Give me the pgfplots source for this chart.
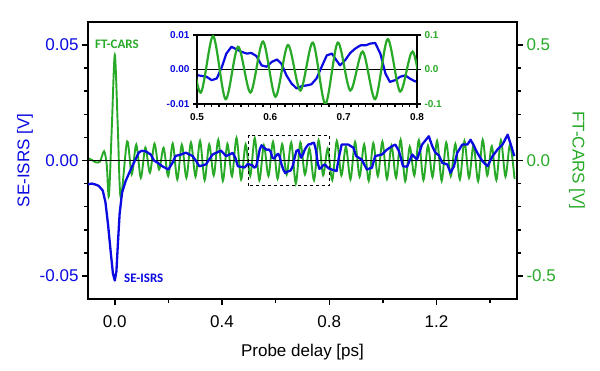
\documentclass[border=0pt]{standalone}
\usepackage{pgfplots}
\pgfplotsset{compat=1.18}
\usepackage{pgfplotstable}
\usepackage{fontspec}
\setmainfont{Liberation Sans}
\newfontfamily\calibri{Carlito}
\definecolor{sblue}{RGB}{10,10,225}
\definecolor{cgreen}{RGB}{40,170,40}

\pgfplotstableread{
x g
-0.100 0.010
-0.085 0.002
-0.070 -0.008
-0.055 -0.004
-0.040 0.040
-0.030 -0.020
-0.022 -0.155
-0.011 0.150
0.000 0.457
0.011 0.150
0.022 -0.160
0.046 0.083
0.063 -0.060
0.080 0.069
0.097 -0.075
0.114 0.056
0.131 -0.053
0.148 0.073
0.165 -0.039
0.182 0.055
0.199 -0.068
0.216 0.073
0.233 -0.082
0.250 0.069
0.267 -0.075
0.284 0.078
0.301 -0.070
0.318 0.085
0.335 -0.085
0.352 0.070
0.369 -0.065
0.386 0.090
0.403 -0.088
0.420 0.072
0.437 -0.068
0.454 0.098
0.471 -0.082
0.488 0.070
0.505 -0.067
0.522 0.097
0.539 -0.086
0.556 0.066
0.573 -0.067
0.590 0.081
0.607 -0.079
0.624 0.071
0.641 -0.061
0.658 0.078
0.675 -0.100
0.692 0.078
0.709 -0.061
0.726 0.052
0.743 -0.086
0.760 0.088
0.777 -0.064
0.794 0.052
0.811 -0.085
0.828 0.085
0.845 -0.065
0.862 0.060
0.879 -0.082
0.896 0.080
0.913 -0.070
0.930 0.070
0.947 -0.088
0.964 0.075
0.981 -0.068
0.998 0.082
1.015 -0.080
1.032 0.065
1.049 -0.075
1.066 0.090
1.083 -0.090
1.100 0.060
1.117 -0.065
1.134 0.088
1.151 -0.085
1.168 0.065
1.185 -0.072
1.202 0.085
1.219 -0.088
1.236 0.078
1.253 -0.068
1.270 0.072
1.287 -0.082
1.304 0.085
1.321 -0.075
1.338 0.068
1.355 -0.090
1.372 0.090
1.389 -0.065
1.406 0.062
1.423 -0.085
1.440 0.088
1.457 -0.070
1.474 0.070
1.491 -0.080
}\greendata

\pgfplotstableread{
x s
-0.100 -0.0103
-0.085 -0.0100
-0.070 -0.0105
-0.060 -0.0110
-0.045 -0.0130
-0.035 -0.0180
-0.025 -0.0280
-0.015 -0.0400
-0.007 -0.0490
0.000 -0.0520
0.006 -0.0480
0.012 -0.0350
0.018 -0.0230
0.027 -0.0140
0.040 -0.0090
0.059 -0.0040
0.075 0.0000
0.090 0.0035
0.100 0.0042
0.115 0.0040
0.134 0.0026
0.146 0.0000
0.160 -0.0010
0.177 -0.0025
0.200 -0.0039
0.215 -0.0010
0.227 0.0020
0.245 0.0025
0.265 0.0034
0.290 0.0019
0.305 -0.0005
0.315 -0.0025
0.340 -0.0017
0.355 0.0010
0.365 0.0026
0.396 0.0043
0.415 0.0019
0.440 0.0033
0.450 0.0010
0.459 -0.0025
0.484 -0.0030
0.496 -0.0015
0.502 -0.0017
0.513 -0.0021
0.520 -0.0031
0.527 -0.0026
0.534 0.0008
0.540 0.0046
0.547 0.0066
0.554 0.0058
0.561 0.0051
0.568 0.0046
0.574 0.0048
0.581 0.0039
0.588 0.0012
0.595 0.0008
0.602 0.0022
0.609 0.0029
0.615 0.0017
0.622 -0.0017
0.629 -0.0041
0.636 -0.0055
0.643 -0.0048
0.650 -0.0046
0.656 -0.0043
0.663 -0.0026
0.670 0.0008
0.677 0.0041
0.684 0.0046
0.690 0.0027
0.695 0.0012
0.702 0.0027
0.709 0.0048
0.716 0.0061
0.723 0.0070
0.730 0.0070
0.736 0.0075
0.743 0.0077
0.750 0.0046
0.757 -0.0012
0.763 -0.0036
0.770 -0.0031
0.777 -0.0021
0.784 -0.0017
0.790 -0.0026
0.797 -0.0034
0.809 -0.0039
0.827 -0.0046
0.835 0.0010
0.846 0.0069
0.871 0.0069
0.890 0.0055
0.900 0.0019
0.921 0.0004
0.940 -0.0039
0.959 -0.0031
0.971 0.0019
0.996 0.0026
1.015 0.0047
1.034 0.0062
1.046 0.0069
1.060 0.0040
1.075 -0.0025
1.090 -0.0027
1.109 0.0026
1.127 0.0004
1.146 0.0069
1.171 0.0105
1.184 0.0062
1.196 0.0033
1.209 0.0022
1.221 -0.0010
1.240 -0.0017
1.252 -0.0053
1.265 -0.0025
1.277 0.0033
1.296 0.0069
1.315 0.0069
1.327 0.0090
1.340 0.0062
1.352 0.0033
1.371 -0.0003
1.390 -0.0025
1.409 0.0019
1.427 0.0047
1.446 0.0069
1.465 0.0112
1.477 0.0069
1.490 0.0019
}\bluedata

\begin{document}
\begin{tikzpicture}
\pgfplotsset{
  mainbase/.style={
    scale only axis, width=429pt, height=277pt,
    xmin=-0.1, xmax=1.5,
    scaled ticks=false,
    axis line style={line width=1.6pt},
    tick style={line width=1.5pt, black},
    major tick length=6pt, minor tick length=3.5pt,
    tick align=outside,
    /pgf/number format/assume math mode=true,
    ticklabel style={font=\fontsize{17}{19}\selectfont},
  },
  insetbase/.style={
    scale only axis, width=220pt, height=69pt,
    at={(109pt,195pt)}, anchor=south west,
    xmin=0.5, xmax=0.8,
    scaled ticks=false,
    axis line style={line width=1.3pt},
    tick style={line width=1.2pt, black},
    major tick length=4pt, minor tick length=3pt,
    tick align=outside,
    /pgf/number format/assume math mode=true,
    ticklabel style={font=\bfseries\fontsize{10}{12}\selectfont},
  },
  fmt1/.style={/pgf/number format/fixed, /pgf/number format/fixed zerofill, /pgf/number format/precision=1},
  fmt2/.style={/pgf/number format/fixed, /pgf/number format/fixed zerofill, /pgf/number format/precision=2},
}
% main, right axis (green)
\begin{axis}[mainbase,
  ymin=-0.6, ymax=0.6,
  xtick=\empty,
  ytick={-0.5,0,0.5},
  minor ytick={-0.4,-0.3,-0.2,-0.1,0.1,0.2,0.3,0.4},
  ytick pos=right, yticklabel pos=right,
  yticklabel style={color=cgreen, fmt1},
  ylabel={FT-CARS [V]},
  every axis y label/.style={at={(axis description cs:1.14,0.5)}, rotate=-90, anchor=center, color=cgreen, font=\fontsize{17}{19}\selectfont},
]
\addplot[cgreen, line width=1.9pt, smooth] table[x=x,y=g]{\greendata};
\end{axis}
% main, left axis (blue)
\begin{axis}[mainbase,
  ymin=-0.06, ymax=0.06,
  xtick={0,0.4,0.8,1.2},
  minor xtick={0.2,0.6,1.0,1.4},
  ytick={-0.05,0,0.05},
  minor ytick={-0.04,-0.03,-0.02,-0.01,0.01,0.02,0.03,0.04},
  xtick pos=left, ytick pos=left,
  yticklabel style={color=sblue, fmt2},
  xticklabel style={fmt1, yshift=-7pt},
  ylabel={SE-ISRS [V]},
  every axis y label/.style={at={(axis description cs:-0.147,0.5)}, rotate=90, anchor=center, color=sblue, font=\fontsize{17}{19}\selectfont},
  xlabel={Probe delay [ps]},
  every axis x label/.style={at={(axis description cs:0.5,-0.191)}, anchor=center, font=\fontsize{17}{19}\selectfont},
]
\draw[black, line width=1.2pt] (axis cs:-0.1,0) -- (axis cs:1.5,0);
\draw[black, dashed, line width=0.9pt] (axis cs:0.5,-0.011) rectangle (axis cs:0.8,0.011);
\addplot[sblue, line width=2.3pt, line join=round] table[x=x,y=s]{\bluedata};
\node[font=\calibri\bfseries\fontsize{13}{15}\selectfont, text=cgreen] at (axis cs:0.008,0.0504) {FT-CARS};
\node[font=\calibri\bfseries\fontsize{13}{15}\selectfont, text=sblue] at (axis cs:0.108,-0.0509) {SE-ISRS};
\end{axis}
% inset, left axis (blue)
\begin{axis}[insetbase,
  axis background/.style={fill=white},
  ymin=-0.01, ymax=0.01,
  xtick={0.5,0.6,0.7,0.8}, minor x tick num=9,
  ytick={-0.01,0,0.01},
  xtick pos=left, ytick pos=left,
  yticklabel style={color=sblue, fmt2},
  xticklabel style={fmt1, yshift=-2pt},
]
\draw[black, line width=1.1pt] (axis cs:0.5,0) -- (axis cs:0.8,0);
\addplot[sblue, line width=2.2pt, line join=round] table[x=x,y=s]{\bluedata};
\end{axis}
% inset, right axis (green)
\begin{axis}[insetbase,
  ymin=-0.1, ymax=0.1,
  xtick=\empty,
  ytick={-0.1,0,0.1},
  ytick pos=right, yticklabel pos=right,
  yticklabel style={color=cgreen, fmt1},
]
\addplot[cgreen, line width=2.2pt, smooth] table[x=x,y=g]{\greendata};
\end{axis}
\pgfresetboundingbox
\path[use as bounding box] (-88pt,-71pt) rectangle (512pt,299pt);
\end{tikzpicture}
\end{document}
